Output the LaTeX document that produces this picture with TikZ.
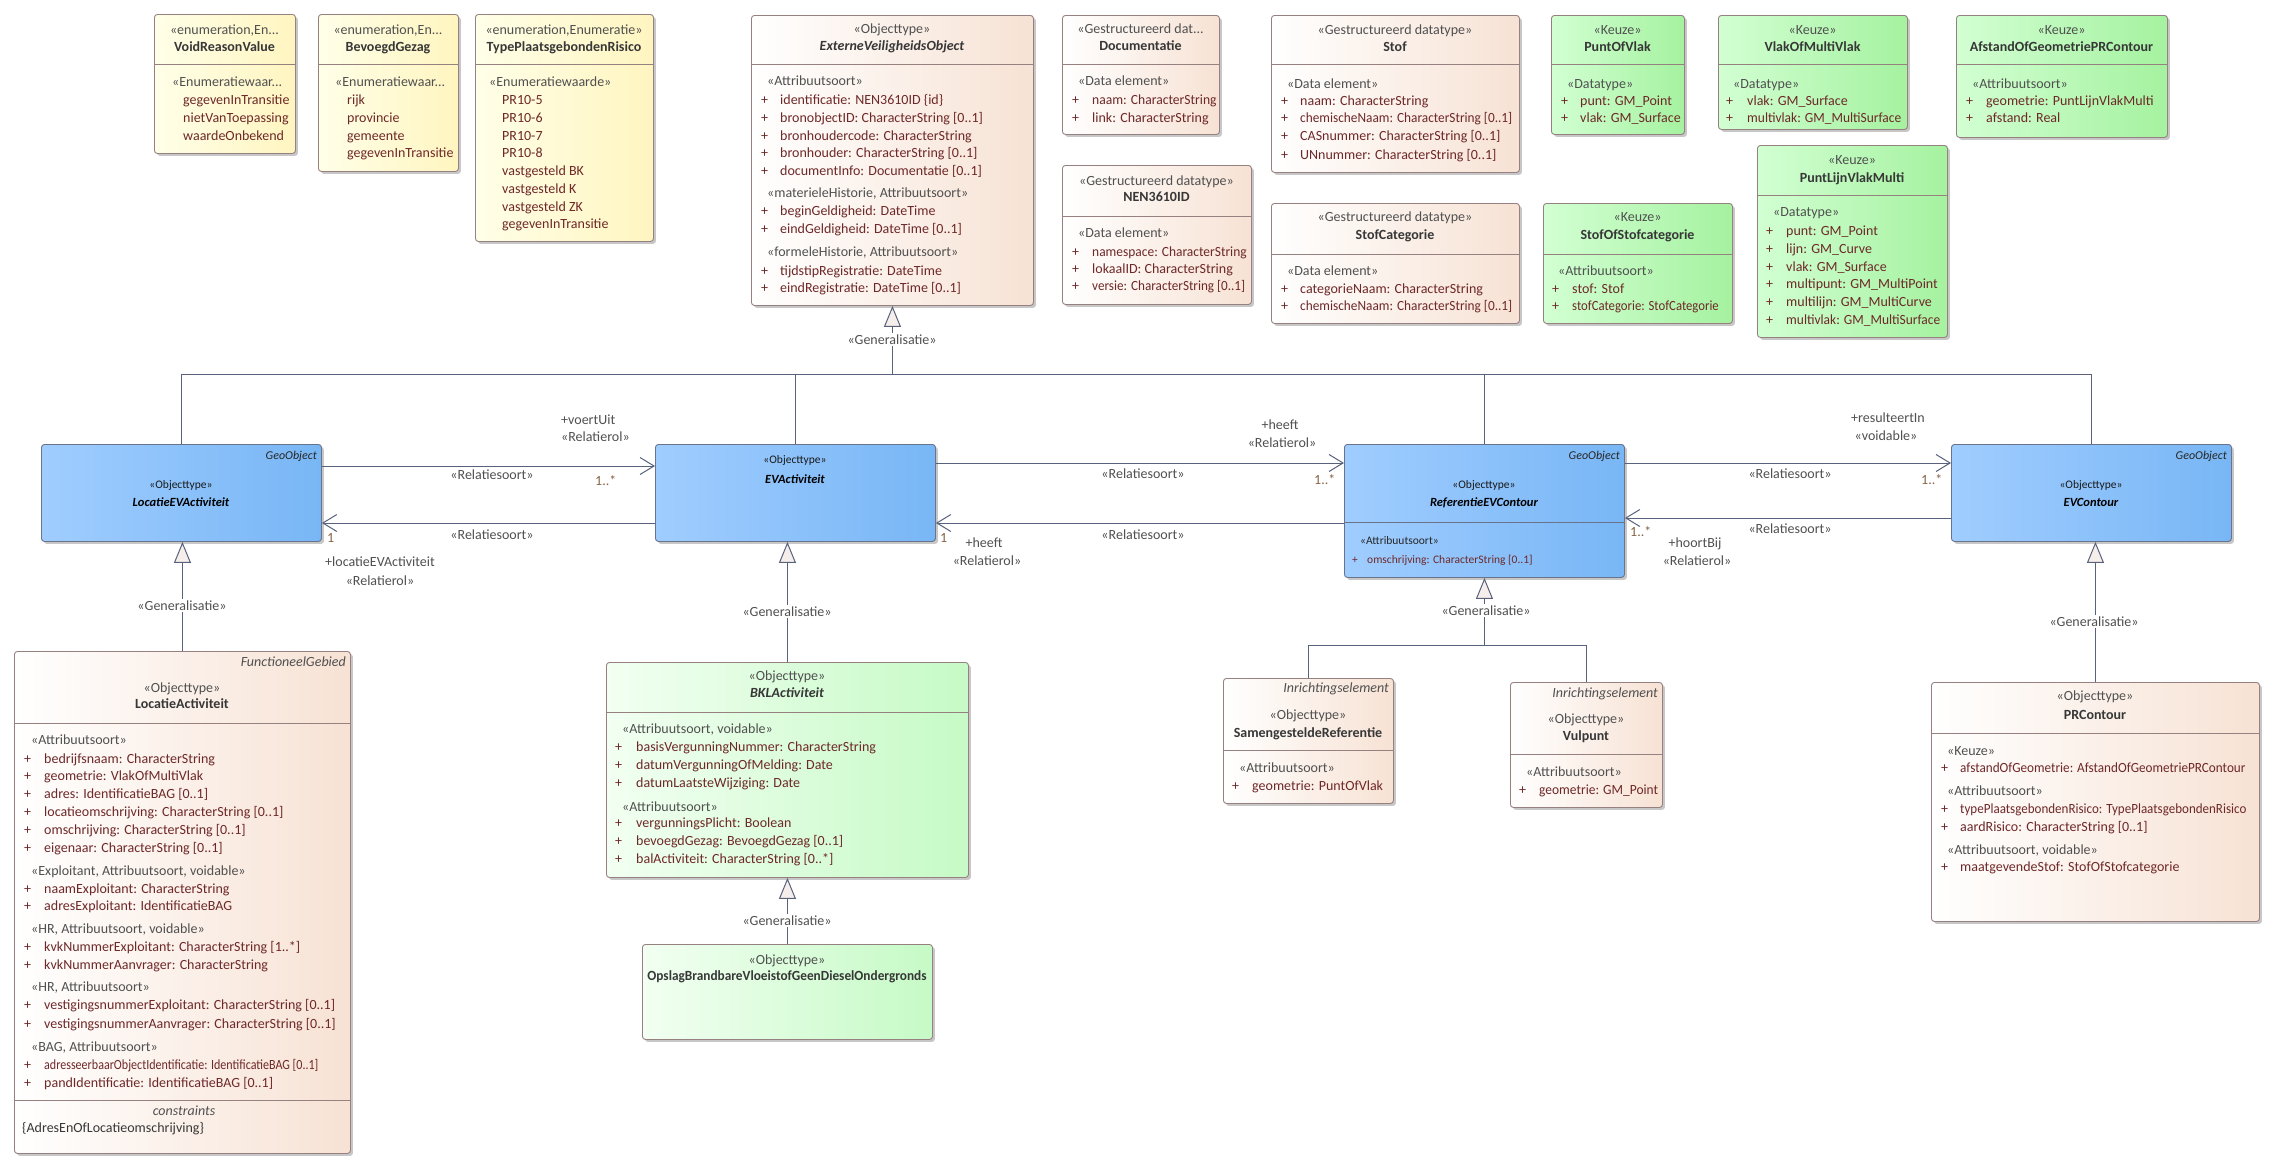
\documentclass[tikz,border=0pt]{standalone}
\usepackage{fontspec}
\usepackage{graphicx}
\setmainfont{Carlito}
\usetikzlibrary{arrows.meta,shadows}
\definecolor{boxborder}{RGB}{150,128,128}
\definecolor{blueborder}{RGB}{105,115,138}
\definecolor{conncol}{RGB}{88,98,125}
\definecolor{attrcol}{RGB}{110,40,40}
\definecolor{stereocol}{RGB}{80,80,80}
\definecolor{namecol}{RGB}{55,55,55}
\definecolor{multcol}{RGB}{135,100,70}
\definecolor{enumL}{RGB}{255,255,232}
\definecolor{enumR}{RGB}{255,245,192}
\definecolor{peachR}{RGB}{247,226,212}
\definecolor{greenL}{RGB}{210,255,210}
\definecolor{greenR}{RGB}{165,242,160}
\definecolor{lgreenL}{RGB}{242,255,242}
\definecolor{lgreenR}{RGB}{198,250,198}
\definecolor{blueL}{RGB}{160,205,255}
\definecolor{blueR}{RGB}{120,182,245}
\definecolor{genfill}{RGB}{246,238,235}
\newcommand{\fs}{\fontsize{14}{16}\selectfont}
\newcommand{\sq}[2]{\scalebox{#1}[1]{#2}}
\newcounter{tc}
\newcommand{\tx}[4][attr]{\stepcounter{tc}\node[#1] (t\thetc) at (#2,#3) {#4};}
\newcommand{\pa}[4]{\tx{#1}{#3}{+}\tx{#2}{#3}{#4}}
\newcommand{\ubox}[6]{\node[#6, minimum width={(#4-#2)*1pt}, minimum height={(#5-#3)*1pt}] (#1) at (#2,#3) {};}
\newcommand{\udiv}[2]{\draw[divider] (#1.west |- 0,#2) -- (#1.east |- 0,#2);}
\tikzset{
  umlbase/.style={draw=boxborder, line width=0.9pt, rounded corners=3pt, anchor=north west, inner sep=0pt,
    drop shadow={shadow xshift=2.5pt, shadow yshift=-2.5pt, opacity=0.22, fill=black}},
  enumbox/.style={umlbase, left color=enumL, right color=enumR},
  peachbox/.style={umlbase, left color=white, right color=peachR},
  greenbox/.style={umlbase, left color=greenL, right color=greenR},
  lgreenbox/.style={umlbase, left color=lgreenL, right color=lgreenR},
  bluebox/.style={umlbase, draw=blueborder, left color=blueL, right color=blueR},
  divider/.style={draw=boxborder, line width=0.9pt},
  bdivider/.style={draw=blueborder, line width=0.9pt},
  stereo/.style={font=\fs, text=stereocol, inner sep=0pt, anchor=mid},
  cname/.style={font=\fs\bfseries, text=namecol, inner sep=0pt, anchor=mid},
  cnamei/.style={cname, font=\fs\bfseries\itshape},
  sect/.style={font=\fs, text=stereocol, inner sep=0pt, anchor=mid west},
  attr/.style={font=\fs, text=attrcol, inner sep=0pt, anchor=mid west},
  tag/.style={font=\fs\itshape, text=stereocol, inner sep=0pt, anchor=mid east},
  bstereo/.style={font=\fontsize{11.5}{13}\selectfont, text=black!90, inner sep=0pt, anchor=mid},
  bname/.style={font=\fontsize{12.5}{14}\selectfont\bfseries\itshape, text=black, inner sep=0pt, anchor=mid},
  btag/.style={font=\fontsize{12}{14}\selectfont\itshape, text=black!85, inner sep=0pt, anchor=mid east},
  bsect/.style={font=\fontsize{11.5}{13}\selectfont, text=black!85, inner sep=0pt, anchor=mid west},
  battr/.style={font=\fontsize{11.5}{13}\selectfont, text=attrcol, inner sep=0pt, anchor=mid west},
  lab/.style={font=\fs, text=stereocol, inner sep=0pt, anchor=mid},
  labw/.style={lab, anchor=mid west},
  mult/.style={font=\fs, text=multcol, inner sep=0pt, anchor=mid west},
  glab/.style={lab, fill=white, inner sep=1.5pt},
  conn/.style={draw=conncol, line width=1pt},
  assoc/.style={conn, -{Straight Barb[length=14pt,width=17pt]}},
  gen/.style={conn, -{Triangle[length=21pt,width=17pt,fill=genfill]}},
}
\begin{document}
\begin{tikzpicture}[x=1pt,y=-1pt]
\useasboundingbox (0,0) rectangle (2279,1170);
\fill[white] (0,0) rectangle (2279,1170);

% ---------------- enumerations ----------------
\ubox{vrv}{154}{14}{295}{153}{enumbox}\udiv{vrv}{64}
\tx[stereo]{224.5}{32}{«enumeration,En...}
\tx[cname]{224.5}{49}{VoidReasonValue}
\tx[sect]{172}{84}{«Enumeratiewaar...}
\tx{183}{102}{gegevenInTransitie}
\tx{183}{120}{nietVanToepassing}
\tx{183}{138}{waardeOnbekend}

\ubox{bg}{318}{14}{458}{171}{enumbox}\udiv{bg}{64}
\tx[stereo]{388}{32}{«enumeration,En...}
\tx[cname]{388}{49}{BevoegdGezag}
\tx[sect]{335}{84}{«Enumeratiewaar...}
\tx{347}{102}{rijk}
\tx{347}{120}{provincie}
\tx{347}{138}{gemeente}
\tx{347}{155}{gegevenInTransitie}

\ubox{tpr}{475}{14}{653}{241}{enumbox}\udiv{tpr}{64}
\tx[stereo]{564}{32}{«enumeration,Enumeratie»}
\tx[cname]{564}{49}{TypePlaatsgebondenRisico}
\tx[sect]{489}{84}{«Enumeratiewaarde»}
\tx{502}{102}{PR10-5}
\tx{502}{120}{PR10-6}
\tx{502}{138}{PR10-7}
\tx{502}{155}{PR10-8}
\tx{502}{173}{vastgesteld BK}
\tx{502}{191}{vastgesteld K}
\tx{502}{209}{vastgesteld ZK}
\tx{502}{226}{gegevenInTransitie}

% ---------------- ExterneVeiligheidsObject ----------------
\ubox{evo}{751}{15}{1033}{305}{peachbox}\udiv{evo}{64}
\tx[stereo]{892}{31}{«Objecttype»}
\tx[cnamei]{892}{48}{ExterneVeiligheidsObject}
\tx[sect]{767}{83}{«Attribuutsoort»}
\pa{761}{780}{102}{identificatie: NEN3610ID \{id\}}
\pa{761}{780}{120}{bronobjectID: CharacterString [0..1]}
\pa{761}{780}{138}{bronhoudercode: CharacterString}
\pa{761}{780}{155}{bronhouder: CharacterString [0..1]}
\pa{761}{780}{173}{documentInfo: Documentatie [0..1]}
\tx[sect]{767}{195}{«materieleHistorie, Attribuutsoort»}
\pa{761}{780}{213}{beginGeldigheid: DateTime}
\pa{761}{780}{231}{eindGeldigheid: DateTime [0..1]}
\tx[sect]{767}{254}{«formeleHistorie, Attribuutsoort»}
\pa{761}{780}{273}{tijdstipRegistratie: DateTime}
\pa{761}{780}{290}{eindRegistratie: DateTime [0..1]}

% ---------------- Documentatie / NEN3610ID ----------------
\ubox{doc}{1062}{15}{1219}{134}{peachbox}\udiv{doc}{64}
\tx[stereo]{1140.5}{31}{«Gestructureerd dat...}
\tx[cname]{1140.5}{48}{Documentatie}
\tx[sect]{1078}{83}{«Data element»}
\pa{1072}{1092}{102}{\sq{0.97}{naam: CharacterString}}
\pa{1072}{1092}{120}{link: CharacterString}

\ubox{nen}{1062}{165}{1251}{304}{peachbox}\udiv{nen}{216}
\tx[stereo]{1156.5}{183}{«Gestructureerd datatype»}
\tx[cname]{1156.5}{199}{NEN3610ID}
\tx[sect]{1078}{235}{«Data element»}
\pa{1072}{1092}{254}{\sq{0.96}{namespace: CharacterString}}
\pa{1072}{1092}{271}{lokaalID: CharacterString}
\pa{1072}{1092}{288}{\sq{0.94}{versie: CharacterString [0..1]}}

% ---------------- Stof / StofCategorie ----------------
\ubox{stof}{1271}{15}{1519}{172}{peachbox}\udiv{stof}{64}
\tx[stereo]{1395}{32}{«Gestructureerd datatype»}
\tx[cname]{1395}{49}{Stof}
\tx[sect]{1287}{86}{«Data element»}
\pa{1281}{1300}{103}{naam: CharacterString}
\pa{1281}{1300}{120}{\sq{0.95}{chemischeNaam: CharacterString [0..1]}}
\pa{1281}{1300}{138}{CASnummer: CharacterString [0..1]}
\pa{1281}{1300}{157}{UNnummer: CharacterString [0..1]}

\ubox{stofcat}{1271}{203}{1519}{323}{peachbox}\udiv{stofcat}{254}
\tx[stereo]{1395}{219}{«Gestructureerd datatype»}
\tx[cname]{1395}{237}{StofCategorie}
\tx[sect]{1287}{273}{«Data element»}
\pa{1281}{1300}{291}{categorieNaam: CharacterString}
\pa{1281}{1300}{308}{\sq{0.95}{chemischeNaam: CharacterString [0..1]}}

% ---------------- Keuze boxes ----------------
\ubox{pov}{1551}{15}{1684}{134}{greenbox}\udiv{pov}{64}
\tx[stereo]{1617.5}{32}{«Keuze»}
\tx[cname]{1617.5}{49}{PuntOfVlak}
\tx[sect]{1567}{86}{«Datatype»}
\pa{1561}{1580}{103}{punt: GM\_Point}
\pa{1561}{1580}{120}{vlak: GM\_Surface}

\ubox{sos}{1543}{203}{1732}{323}{greenbox}\udiv{sos}{254}
\tx[stereo]{1637.5}{219}{«Keuze»}
\tx[cname]{1637.5}{237}{StofOfStofcategorie}
\tx[sect]{1558}{273}{«Attribuutsoort»}
\pa{1552}{1572}{291}{stof: Stof}
\pa{1552}{1572}{308}{\sq{0.91}{stofCategorie: StofCategorie}}

\ubox{vomv}{1718}{15}{1907}{129}{greenbox}\udiv{vomv}{64}
\tx[stereo]{1812.5}{32}{«Keuze»}
\tx[cname]{1812.5}{49}{VlakOfMultiVlak}
\tx[sect]{1733}{86}{«Datatype»}
\pa{1726}{1747}{103}{vlak: GM\_Surface}
\pa{1726}{1747}{120}{\sq{0.96}{multivlak: GM\_MultiSurface}}

\ubox{aog}{1956}{15}{2167}{137}{greenbox}\udiv{aog}{64}
\tx[stereo]{2061.5}{32}{«Keuze»}
\tx[cname]{2061.5}{49}{AfstandOfGeometriePRContour}
\tx[sect]{1972}{86}{«Attribuutsoort»}
\pa{1966}{1986}{103}{geometrie: PuntLijnVlakMulti}
\pa{1966}{1986}{120}{afstand: Real}

\ubox{plvm}{1757}{145}{1947}{337}{greenbox}\udiv{plvm}{195}
\tx[stereo]{1852}{162}{«Keuze»}
\tx[cname]{1852}{180}{PuntLijnVlakMulti}
\tx[sect]{1773}{214}{«Datatype»}
\pa{1766}{1786}{233}{punt: GM\_Point}
\pa{1766}{1786}{251}{lijn: GM\_Curve}
\pa{1766}{1786}{269}{vlak: GM\_Surface}
\pa{1766}{1786}{286}{multipunt: GM\_MultiPoint}
\pa{1766}{1786}{304}{multilijn: GM\_MultiCurve}
\pa{1766}{1786}{322}{\sq{0.96}{multivlak: GM\_MultiSurface}}

% ---------------- blue row ----------------
\ubox{locEV}{41}{444}{321}{541}{bluebox}
\tx[btag]{317}{457}{GeoObject}
\tx[bstereo]{181}{486}{«Objecttype»}
\tx[bname]{181}{504}{LocatieEVActiviteit}

\ubox{evact}{655}{444}{935}{541}{bluebox}
\tx[bstereo]{795}{461}{«Objecttype»}
\tx[bname]{795}{481}{EVActiviteit}

\ubox{refEV}{1344}{444}{1624}{577}{bluebox}
\draw[bdivider] (refEV.west |- 0,522) -- (refEV.east |- 0,522);
\tx[btag]{1620}{457}{GeoObject}
\tx[bstereo]{1484}{486}{«Objecttype»}
\tx[bname]{1484}{504}{ReferentieEVContour}
\tx[bsect]{1360}{542}{«Attribuutsoort»}
\tx[battr]{1352}{561}{+}
\tx[battr]{1367}{561}{omschrijving: CharacterString [0..1]}

\ubox{evc}{1951}{444}{2231}{541}{bluebox}
\tx[btag]{2227}{457}{GeoObject}
\tx[bstereo]{2091}{486}{«Objecttype»}
\tx[bname]{2091}{504}{EVContour}

% ---------------- LocatieActiviteit ----------------
\ubox{locAct}{14}{651}{350}{1153}{peachbox}\udiv{locAct}{723}\udiv{locAct}{1100}
\tx[tag]{346}{664}{FunctioneelGebied}
\tx[stereo]{182}{690}{«Objecttype»}
\tx[cname]{182}{706}{LocatieActiviteit}
\tx[sect]{31}{742}{«Attribuutsoort»}
\pa{24}{44}{761}{bedrijfsnaam: CharacterString}
\pa{24}{44}{778}{geometrie: VlakOfMultiVlak}
\pa{24}{44}{796}{adres: IdentificatieBAG [0..1]}
\pa{24}{44}{814}{locatieomschrijving: CharacterString [0..1]}
\pa{24}{44}{832}{omschrijving: CharacterString [0..1]}
\pa{24}{44}{850}{eigenaar: CharacterString [0..1]}
\tx[sect]{31}{873}{«Exploitant, Attribuutsoort, voidable»}
\pa{24}{44}{891}{naamExploitant: CharacterString}
\pa{24}{44}{908}{adresExploitant: IdentificatieBAG}
\tx[sect]{31}{931}{«HR, Attribuutsoort, voidable»}
\pa{24}{44}{949}{kvkNummerExploitant: CharacterString [1..*]}
\pa{24}{44}{967}{kvkNummerAanvrager: CharacterString}
\tx[sect]{31}{989}{«HR, Attribuutsoort»}
\pa{24}{44}{1007}{vestigingsnummerExploitant: CharacterString [0..1]}
\pa{24}{44}{1026}{vestigingsnummerAanvrager: CharacterString [0..1]}
\tx[sect]{31}{1049}{«BAG, Attribuutsoort»}
\pa{24}{44}{1067}{\sq{0.86}{adresseerbaarObjectIdentificatie: IdentificatieBAG [0..1]}}
\pa{24}{44}{1085}{pandIdentificatie: IdentificatieBAG [0..1]}
\tx[stereo, font=\fs\itshape]{184}{1113}{constraints}
\tx[sect, text=namecol]{22}{1130}{\{AdresEnOfLocatieomschrijving\}}

% ---------------- BKLActiviteit / Opslag ----------------
\ubox{bkl}{606}{662}{968}{877}{lgreenbox}\udiv{bkl}{712}
\tx[stereo]{787}{678}{«Objecttype»}
\tx[cnamei]{787}{695}{BKLActiviteit}
\tx[sect]{622}{731}{«Attribuutsoort, voidable»}
\pa{615}{636}{749}{basisVergunningNummer: CharacterString}
\pa{615}{636}{767}{datumVergunningOfMelding: Date}
\pa{615}{636}{785}{datumLaatsteWijziging: Date}
\tx[sect]{622}{809}{«Attribuutsoort»}
\pa{615}{636}{825}{vergunningsPlicht: Boolean}
\pa{615}{636}{843}{bevoegdGezag: BevoegdGezag [0..1]}
\pa{615}{636}{861}{balActiviteit: CharacterString [0..*]}

\ubox{opslag}{642}{944}{932}{1039}{lgreenbox}
\tx[stereo]{787}{962}{«Objecttype»}
\tx[cname]{787}{978}{\sq{0.95}{OpslagBrandbareVloeistofGeenDieselOndergronds}}

% ---------------- Samengestelde / Vulpunt ----------------
\ubox{samen}{1223}{678}{1393}{803}{peachbox}\udiv{samen}{750}
\tx[tag]{1389}{690}{Inrichtingselement}
\tx[stereo]{1308}{717}{«Objecttype»}
\tx[cname]{1308}{735}{SamengesteldeReferentie}
\tx[sect]{1239}{770}{«Attribuutsoort»}
\pa{1232}{1252}{788}{geometrie: PuntOfVlak}

\ubox{vul}{1510}{682}{1662}{807}{peachbox}\udiv{vul}{754}
\tx[tag]{1658}{695}{Inrichtingselement}
\tx[stereo]{1586}{721}{«Objecttype»}
\tx[cname]{1586}{738}{Vulpunt}
\tx[sect]{1526}{774}{«Attribuutsoort»}
\pa{1519}{1539}{792}{\sq{0.96}{geometrie: GM\_Point}}

% ---------------- PRContour ----------------
\ubox{prc}{1931}{682}{2259}{921}{peachbox}\udiv{prc}{733}
\tx[stereo]{2095}{698}{«Objecttype»}
\tx[cname]{2095}{717}{PRContour}
\tx[sect]{1947}{753}{«Keuze»}
\pa{1941}{1960}{770}{\sq{0.94}{afstandOfGeometrie: AfstandOfGeometriePRContour}}
\tx[sect]{1947}{793}{«Attribuutsoort»}
\pa{1941}{1960}{811}{\sq{0.93}{typePlaatsgebondenRisico: TypePlaatsgebondenRisico}}
\pa{1941}{1960}{829}{aardRisico: CharacterString [0..1]}
\tx[sect]{1947}{852}{«Attribuutsoort, voidable»}
\pa{1941}{1960}{869}{maatgevendeStof: StofOfStofcategorie}

% ---------------- generalisations ----------------
\draw[conn] (locEV.north) -- (locEV.north |- 0,374) -- (evc.north |- 0,374) -- (evc.north);
\draw[conn] (evact.north) -- (evact.north |- 0,374);
\draw[conn] (refEV.north) -- (refEV.north |- 0,374);
\draw[gen] (evo.south |- 0,374) -- (evo.south);
\node[glab] (g1) at (892,342) {«Generalisatie»};

\draw[gen] (locAct.north) -- (locAct.north |- locEV.south);
\node[glab] (g2) at (182,608) {«Generalisatie»};

\draw[gen] (bkl.north) -- (bkl.north |- evact.south);
\node[glab] (g3) at (787,614) {«Generalisatie»};

\draw[gen] (opslag.north) -- (opslag.north |- bkl.south);
\node[glab] (g4) at (787,923) {«Generalisatie»};

\draw[conn] (samen.north) -- (samen.north |- 0,645) -- (vul.north |- 0,645) -- (vul.north);
\draw[gen] (refEV.south |- 0,645) -- (refEV.south);
\node[glab] (g5) at (1486,613) {«Generalisatie»};

\draw[gen] (prc.north) -- (prc.north |- evc.south);
\node[glab] (g6) at (2094,624) {«Generalisatie»};

% ---------------- associations ----------------
\draw[assoc] (locEV.east |- 0,466) -- (evact.west |- 0,466);
\node[labw] (a1r) at (561,422) {+voertUit};
\node[labw] (a1s) at (561,439) {«Relatierol»};
\node[lab] (a1t) at (492,477) {«Relatiesoort»};
\node[mult] (a1m) at (595,483) {1..*};

\draw[assoc] (evact.west |- 0,523) -- (locEV.east |- 0,523);
\node[lab] (a2t) at (492,537) {«Relatiesoort»};
\node[mult] (a2m) at (327,540) {1};
\node[labw] (a2r) at (325,564) {+locatieEVActiviteit};
\node[lab] (a2s) at (380,583) {«Relatierol»};

\draw[assoc] (evact.east |- 0,463) -- (refEV.west |- 0,463);
\node[lab] (a3r) at (1280,427) {+heeft};
\node[lab] (a3s) at (1282,445) {«Relatierol»};
\node[lab] (a3t) at (1143,476) {«Relatiesoort»};
\node[mult] (a3m) at (1314,482) {1..*};

\draw[assoc] (refEV.west |- 0,523) -- (evact.east |- 0,523);
\node[lab] (a4t) at (1143,537) {«Relatiesoort»};
\node[mult] (a4m) at (940,540) {1};
\node[lab] (a4r) at (984,545) {+heeft};
\node[lab] (a4s) at (987,563) {«Relatierol»};

\draw[assoc] (refEV.east |- 0,463) -- (evc.west |- 0,463);
\node[lab] (a5r) at (1888,420) {+resulteertIn};
\node[lab] (a5s) at (1886,438) {«voidable»};
\node[lab] (a5t) at (1790,476) {«Relatiesoort»};
\node[mult] (a5m) at (1921,482) {1..*};

\draw[assoc] (evc.west |- 0,518) -- (refEV.east |- 0,518);
\node[lab] (a6t) at (1790,531) {«Relatiesoort»};
\node[mult] (a6m) at (1630,534) {1..*};
\node[lab] (a6r) at (1695,545) {+hoortBij};
\node[lab] (a6s) at (1697,563) {«Relatierol»};
\end{tikzpicture}
\end{document}
